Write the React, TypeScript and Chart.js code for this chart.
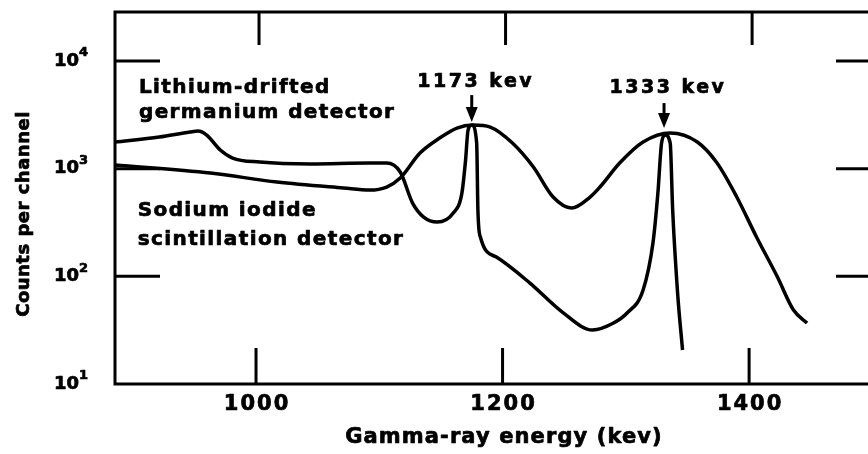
import React, { useEffect, useRef } from "react";
import { Chart, registerables } from "chart.js";

Chart.register(...registerables);

// Lithium-drifted germanium detector spectrum
const geEnergy = [885.6, 921.5, 946.4, 953, 960, 971, 981, 1003, 1044, 1092, 1106, 1117, 1127, 1136, 1147, 1160, 1167, 1170, 1172, 1175, 1179, 1180, 1182, 1195, 1222, 1249, 1273, 1290, 1301, 1314, 1322, 1326, 1329, 1332, 1336, 1338, 1342, 1346];
const geCounts = [1766, 1965, 2188, 2234, 2051, 1489, 1254, 1151, 1104, 1127, 1127, 930, 479, 355, 319, 387, 593, 1202, 2281, 2541, 1729, 413, 232, 151, 87, 46, 31.7, 36.8, 45.6, 74.6, 204, 593, 1729, 2051, 1729, 413, 70, 20.7];

// Sodium iodide scintillation detector spectrum
const naiEnergy = [885.6, 963, 1017, 1071, 1092, 1106, 1117, 1133, 1149, 1163, 1176, 1190, 1208, 1225, 1241, 1256, 1271, 1279, 1295, 1314, 1336, 1358, 1374, 1390, 1406, 1423, 1436, 1447];
const naiCounts = [1080, 910, 751, 661, 633, 675, 818, 1396, 1924, 2382, 2541, 2433, 1729, 1035, 545, 431, 545, 675, 1127, 1766, 2141, 1766, 1127, 545, 232, 98.5, 48.6, 36.8];

const xTicks = [1000, 1200, 1400];
const xTickLabels = ["1000", "1200", "1400"];
const yTicks = [10, 100, 1000, 10000];
const yTickExponents = ["1", "2", "3", "4"];
const xMin = 885.6;
const xMax = 1507;
const yMin = 10;
const yMax = 28500;

const xTitle = "Gamma-ray energy (kev)";
const yTitle = "Counts per channel";

const peakLabels = ["1173 kev", "1333 kev"];
const peakArrowEnergy = [1175, 1331];
const peakLabelCounts = [6370, 5600];
const peakArrowTop = [4822, 4064];
const peakArrowTip = [2709, 2382];

const curveLabels = [
  ["Lithium-drifted", "germanium detector"],
  ["Sodium iodide", "scintillation detector"],
];
const curveLabelEnergy = [905, 904];
const curveLabelCounts = [
  [5600, 3281],
  [404, 217],
];

const FONT = '"DejaVu Sans", "Liberation Sans", sans-serif';

function heavyText(ctx: CanvasRenderingContext2D, t: string, x: number, y: number) {
  ctx.fillText(t, x, y);
  ctx.strokeText(t, x, y);
}

const decorPlugin = {
  id: "decor",
  afterDatasetsDraw(chart: any) {
    const ctx = chart.ctx as CanvasRenderingContext2D;
    const { left, right, top, bottom } = chart.chartArea;
    const xs = chart.scales.x;
    const ys = chart.scales.y;
    ctx.save();
    ctx.strokeStyle = "#000";
    ctx.fillStyle = "#000";
    ctx.lineCap = "butt";

    // frame
    ctx.lineWidth = 3;
    ctx.beginPath();
    ctx.moveTo(left, top);
    ctx.lineTo(left, bottom);
    ctx.lineTo(right, bottom);
    ctx.lineTo(right, top);
    ctx.closePath();
    ctx.stroke();

    // x ticks (inward, top and bottom)
    xTicks.forEach((v) => {
      const px = xs.getPixelForValue(v);
      ctx.beginPath();
      ctx.moveTo(px, bottom);
      ctx.lineTo(px, bottom - 36);
      ctx.moveTo(px + 3, top);
      ctx.lineTo(px + 3, top + 33);
      ctx.stroke();
    });
    // y ticks (inward, left and right)
    yTicks.forEach((v) => {
      if (v <= yMin) return;
      const py = ys.getPixelForValue(v);
      ctx.beginPath();
      ctx.moveTo(left, py);
      ctx.lineTo(left + 45, py);
      ctx.moveTo(right, py);
      ctx.lineTo(right - 45, py);
      ctx.stroke();
    });

    ctx.lineWidth = 0.7;
    ctx.lineJoin = "round";

    // x tick labels
    ctx.font = `bold 21px ${FONT}`;
    (ctx as any).letterSpacing = "2px";
    ctx.textAlign = "center";
    ctx.textBaseline = "middle";
    xTicks.forEach((v, i) => {
      heavyText(ctx, xTickLabels[i], xs.getPixelForValue(v) + 1, bottom + 21);
    });
    (ctx as any).letterSpacing = "0px";

    // y tick labels with superscript exponent
    yTicks.forEach((v, i) => {
      const py = ys.getPixelForValue(v);
      ctx.font = `bold 18px ${FONT}`;
      ctx.textAlign = "right";
      ctx.textBaseline = "middle";
      heavyText(ctx, "10", left - 36, py);
      ctx.font = `bold 13px ${FONT}`;
      ctx.textAlign = "left";
      heavyText(ctx, yTickExponents[i], left - 36, py - 8);
    });

    // axis titles
    ctx.font = `bold 21px ${FONT}`;
    (ctx as any).letterSpacing = "1.1px";
    ctx.textAlign = "center";
    ctx.textBaseline = "middle";
    heavyText(ctx, xTitle, 504, bottom + 54);
    (ctx as any).letterSpacing = "0.5px";
    ctx.save();
    ctx.translate(24, 214);
    ctx.rotate(-Math.PI / 2);
    ctx.font = `bold 18px ${FONT}`;
    heavyText(ctx, yTitle, 0, 0);
    ctx.restore();

    // curve labels
    ctx.font = `bold 20px ${FONT}`;
    (ctx as any).letterSpacing = "1.4px";
    ctx.textAlign = "left";
    ctx.textBaseline = "middle";
    curveLabels.forEach((lines, i) => {
      lines.forEach((t, j) => {
        heavyText(ctx, t, xs.getPixelForValue(curveLabelEnergy[i]), ys.getPixelForValue(curveLabelCounts[i][j]));
      });
    });

    // peak labels and arrows
    peakLabels.forEach((t, i) => {
      const px = xs.getPixelForValue(peakArrowEnergy[i]);
      ctx.font = `bold 19px ${FONT}`;
      (ctx as any).letterSpacing = "2.5px";
      ctx.textAlign = "center";
      ctx.lineWidth = 0.7;
      heavyText(ctx, t, px + 4, ys.getPixelForValue(peakLabelCounts[i]));
      (ctx as any).letterSpacing = "0px";
      const yTop = ys.getPixelForValue(peakArrowTop[i]);
      const yTip = ys.getPixelForValue(peakArrowTip[i]);
      ctx.lineWidth = 3;
      ctx.beginPath();
      ctx.moveTo(px, yTop);
      ctx.lineTo(px, yTip - 10);
      ctx.stroke();
      ctx.beginPath();
      ctx.moveTo(px - 6, yTip - 15);
      ctx.lineTo(px + 6, yTip - 15);
      ctx.lineTo(px, yTip);
      ctx.closePath();
      ctx.fill();
    });

    ctx.restore();
  },
};

export default function App() {
  const canvasRef = useRef<HTMLCanvasElement | null>(null);

  useEffect(() => {
    if (!canvasRef.current) return;
    const ge = geEnergy.map((x, i) => ({ x, y: geCounts[i] }));
    const nai = naiEnergy.map((x, i) => ({ x, y: naiCounts[i] }));
    const chart = new Chart(canvasRef.current, {
      type: "scatter",
      data: {
        datasets: [
          {
            label: "Lithium-drifted germanium detector",
            data: ge,
            showLine: true,
            borderColor: "#000",
            borderWidth: 3.5,
            pointRadius: 0,
            cubicInterpolationMode: "monotone",
            fill: false,
          },
          {
            label: "Sodium iodide scintillation detector",
            data: nai,
            showLine: true,
            borderColor: "#000",
            borderWidth: 3.5,
            pointRadius: 0,
            cubicInterpolationMode: "monotone",
            fill: false,
          },
        ],
      },
      options: {
        responsive: false,
        animation: false,
        devicePixelRatio: 1,
        layout: { padding: { left: 115, right: 19, top: 12, bottom: 70 } },
        plugins: { legend: { display: false }, tooltip: { enabled: false } },
        scales: {
          x: { type: "linear", min: xMin, max: xMax, display: false },
          y: { type: "logarithmic", min: yMin, max: yMax, display: false },
        },
      },
      plugins: [decorPlugin],
    });
    return () => chart.destroy();
  }, []);

  return (
    <div style={{ position: "fixed", left: 0, top: 0, width: 868, height: 454, overflow: "hidden", background: "#fff" }}>
      <canvas ref={canvasRef} width={900} height={454} style={{ display: "block" }} />
    </div>
  );
}
